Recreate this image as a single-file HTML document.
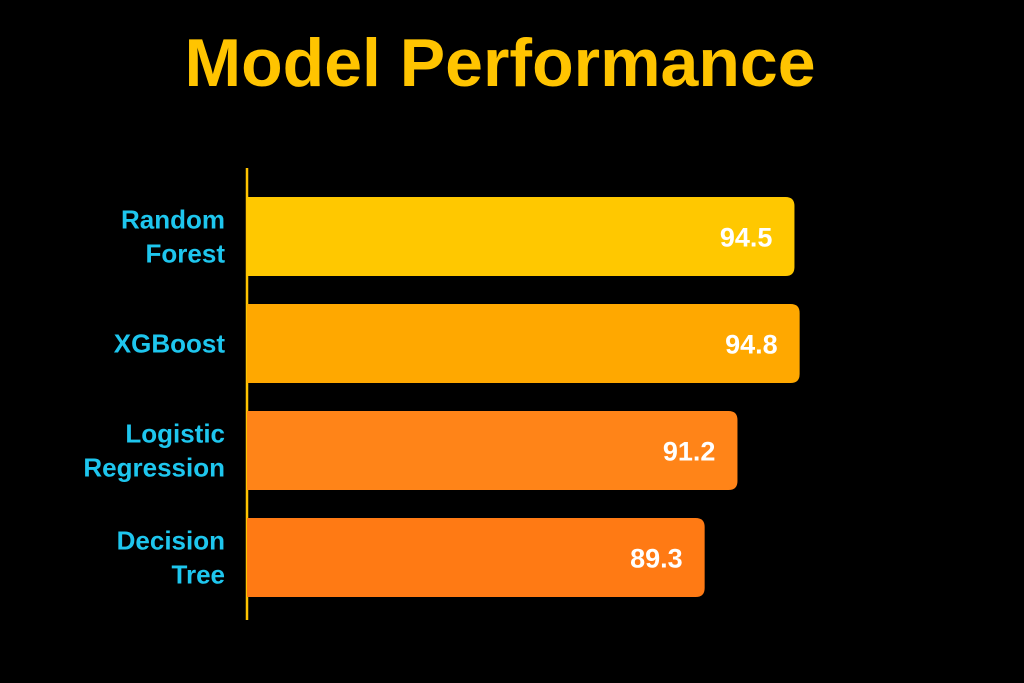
<!DOCTYPE html>
<html><head><meta charset="utf-8"><style>
html,body{margin:0;padding:0;background:#000;}
svg{display:block;font-family:"Liberation Sans",sans-serif;}
</style></head><body>
<svg id="chart" width="1024" height="683" viewBox="0 0 1024 683">
<rect width="1024" height="683" fill="#000"/>
<text x="500" y="86" text-anchor="middle" font-size="68" font-weight="bold" fill="#FFC400">Model Performance</text>
<line x1="247" y1="168" x2="247" y2="620" stroke="#FFC400" stroke-width="2.5"/>
<g id="bars"></g>
</svg>
<script>
const categories = [["Random","Forest"],["XGBoost"],["Logistic","Regression"],["Decision","Tree"]];
const values = [94.5, 94.8, 91.2, 89.3];
const valueLabels = ["94.5","94.8","91.2","89.3"];
const colors = ["#FFC800","#FFA800","#FF8418","#FF7A14"];
const domainMin = 62.8, domainMax = 100;
const x0 = 247, x1 = 247 + (domainMax - domainMin) * 17.27;
function xScale(v){ return x0 + (v - domainMin) / (domainMax - domainMin) * (x1 - x0); }
const top0 = 197, step = 107, bh = 79;
function yScale(i){ return top0 + i * step; }
const ns = "http://www.w3.org/2000/svg";
const g = document.getElementById("bars");
values.forEach((v,i)=>{
  const y = yScale(i), xe = xScale(v), r = 9;
  const p = document.createElementNS(ns,"path");
  p.setAttribute("d",`M${x0},${y}H${xe-r}Q${xe},${y} ${xe},${y+r}V${y+bh-r}Q${xe},${y+bh} ${xe-r},${y+bh}H${x0}Z`);
  p.setAttribute("fill",colors[i]);
  
  
  g.appendChild(p);
  const t = document.createElementNS(ns,"text");
  t.setAttribute("x", xe - 22);
  t.setAttribute("y", y + bh/2 + 10);
  t.setAttribute("text-anchor","end");
  t.setAttribute("font-size","27");
  t.setAttribute("font-weight","bold");
  t.setAttribute("fill","#fff");
  t.textContent = valueLabels[i];
  
  
  g.appendChild(t);
  const lines = categories[i];
  const c = document.createElementNS(ns,"text");
  c.setAttribute("text-anchor","end");
  c.setAttribute("font-size","26");
  c.setAttribute("font-weight","bold");
  c.setAttribute("fill","#1EC6EE");
  
  
  const mid = y + bh/2;
  lines.forEach((ln,j)=>{
    const ts = document.createElementNS(ns,"tspan");
    ts.setAttribute("x", 225);
    ts.setAttribute("y", mid + 9 + (j - (lines.length-1)/2) * 34);
    ts.textContent = ln;
    c.appendChild(ts);
  });
  g.appendChild(c);
});
</script>
</body></html>
